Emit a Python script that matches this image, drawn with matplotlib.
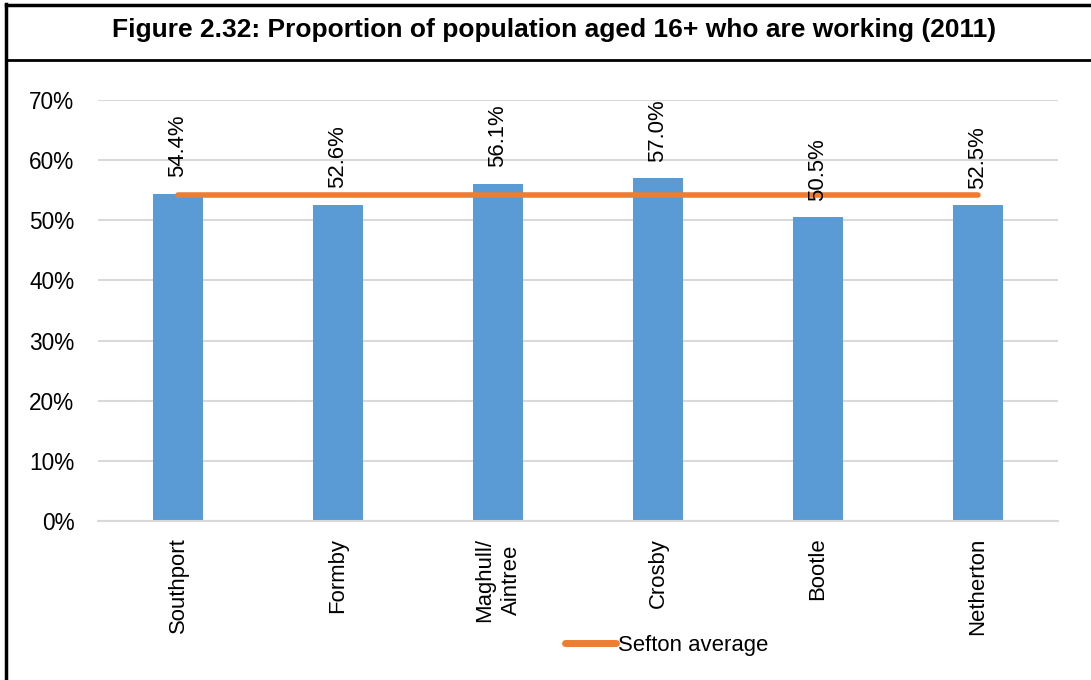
import matplotlib
matplotlib.use("Agg")
import matplotlib.pyplot as plt
from matplotlib.lines import Line2D
from matplotlib import font_manager

names = {f.name for f in font_manager.fontManager.ttflist}
if "Liberation Sans Narrow" in names:
    BODY = ["Liberation Sans Narrow", "Liberation Sans", "DejaVu Sans"]
    k = 1.0
else:
    BODY = ["Liberation Sans", "DejaVu Sans"]
    k = 0.86
plt.rcParams['font.family'] = BODY

title = "Figure 2.32: Proportion of population aged 16+ who are working (2011)"
categories = ["Southport", "Formby", "Maghull/\nAintree", "Crosby", "Bootle", "Netherton"]
values = [0.544, 0.526, 0.561, 0.570, 0.505, 0.525]
labels = ["54.4%", "52.6%", "56.1%", "57.0%", "50.5%", "52.5%"]
sefton_average = [0.542] * 6
yticks = [0, 0.1, 0.2, 0.3, 0.4, 0.5, 0.6, 0.7]
ytick_labels = ["0%", "10%", "20%", "30%", "40%", "50%", "60%", "70%"]

W, H = 1091, 680
fig = plt.figure(figsize=(W / 100, H / 100), dpi=100)
ax = fig.add_axes([98 / W, 1 - 521 / H, 960 / W, 421 / H])

x = list(range(len(categories)))
ax.bar(x, values, width=0.31, color="#5B9BD5", zorder=2)
ax.plot(x, sefton_average, color="#ED7D31", lw=4, solid_capstyle="round", zorder=3,
        label="Sefton average")
for xi, v, lab in zip(x, values, labels):
    ax.annotate(lab, (xi, v), xytext=(0, 12), textcoords="offset points",
                rotation=90, ha="center", va="bottom", fontsize=18.5 * k, zorder=4)

ax.set_xlim(-0.5, 5.5)
ax.set_ylim(0, 0.7)
ax.set_yticks(yticks)
ax.set_yticklabels(ytick_labels, fontsize=19 * k)
ax.set_xticks(x)
ax.set_xticklabels(categories, rotation=90, fontsize=18.5 * k, linespacing=1.4)
ax.tick_params(axis="both", length=0)
ax.tick_params(axis="y", pad=17)
ax.tick_params(axis="x", pad=12)
ax.grid(axis="y", color="#D9D9D9", lw=1.5, zorder=0)
ax.set_axisbelow(True)
for s in ["top", "right", "left"]:
    ax.spines[s].set_visible(False)
ax.spines["bottom"].set_color("#D9D9D9")
ax.spines["bottom"].set_linewidth(1.5)

handle = Line2D([], [], color="#ED7D31", lw=5, solid_capstyle="round")
fig.legend([handle], ["Sefton average"], loc="center left",
           bbox_to_anchor=(554 / W, 1 - 645 / H), frameon=False, fontsize=18.5 * k,
           handlelength=2.3, handletextpad=0.1, borderpad=0)

fig.text(554 / W, 1 - 30 / H, title, ha="center", va="center", fontsize=19,
         fontweight="bold", family=["Liberation Sans", "DejaVu Sans"])

# frame
fig.add_artist(Line2D([6 / W, 6 / W], [0, 1 - 4 / H], color="black", lw=2.5,
                      transform=fig.transFigure))
fig.add_artist(Line2D([6 / W, 1], [1 - 5 / H, 1 - 5 / H], color="black", lw=2.5,
                      transform=fig.transFigure))
fig.add_artist(Line2D([6 / W, 1], [1 - 60 / H, 1 - 60 / H], color="black", lw=2,
                      transform=fig.transFigure))

fig.savefig("out.png", dpi=100)
